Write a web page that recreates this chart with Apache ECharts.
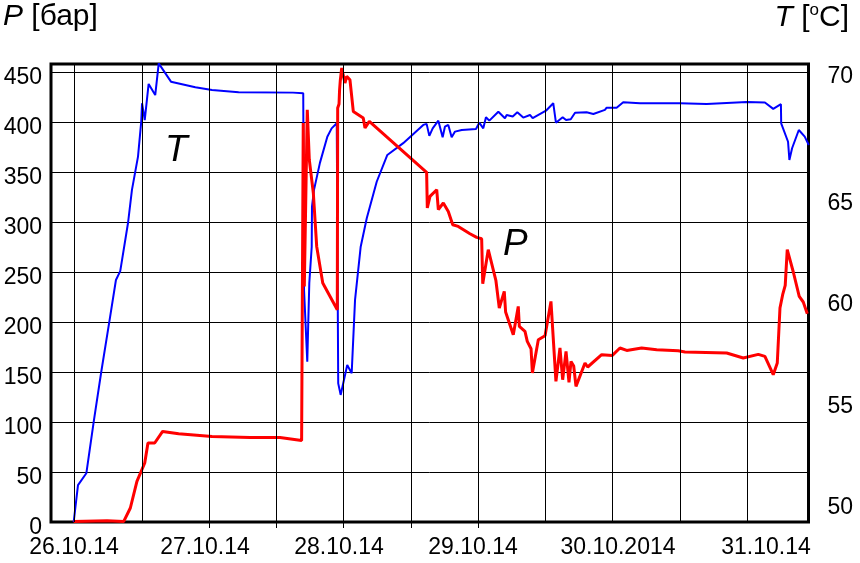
<!DOCTYPE html>
<html>
<head>
<meta charset="utf-8">
<script src="https://cdn.jsdelivr.net/npm/echarts@6/dist/echarts.min.js"></script>
<style>html,body{margin:0;padding:0;background:#fff}#c{width:860px;height:563px}</style>
</head>
<body>
<div id="c"></div>
<script>
// time in days since 26.10.14 00:00
const xLabelText = ['26.10.14', '27.10.14', '28.10.14', '29.10.14', '30.10.2014', '31.10.14'];
const xLabelAt = [-0.004, 0.970, 1.966, 2.962, 4.039, 5.139];
const xGridDays = [0, 0.5, 1, 1.5, 2, 2.5, 3, 3.5, 4, 4.5, 5];
const xTickDays = [1, 1.5, 2, 2.5, 3];

const tLabelText = ['50', '55', '60', '65', '70'];
const tLabelAt = [50, 55, 60, 65, 71.23];

const tDays = [-0.006,0.026,0.088,0.143,0.199,0.259,0.308,0.340,0.398,0.427,0.472,0.496,0.502,0.522,0.551,0.600,0.626,0.717,0.898,1.022,1.220,1.624,1.700,1.706,1.730,1.745,1.763,1.765,1.780,1.824,1.879,1.911,1.949,1.960,1.978,2.027,2.060,2.085,2.127,2.172,2.246,2.325,2.443,2.592,2.617,2.637,2.662,2.704,2.736,2.753,2.778,2.803,2.828,2.878,2.984,3.008,3.038,3.058,3.083,3.150,3.199,3.212,3.257,3.291,3.335,3.385,3.405,3.504,3.558,3.578,3.628,3.653,3.688,3.720,3.806,3.856,3.942,3.955,4.029,4.078,4.203,4.500,4.698,4.996,5.131,5.193,5.250,5.252,5.303,5.313,5.333,5.383,5.427,5.457];
const tValues = [49.31,51.13,51.71,54.25,56.71,59.18,61.23,61.67,64.05,65.67,67.31,69.03,69.94,69.11,70.89,70.34,71.9,71.0,70.72,70.59,70.48,70.46,70.43,60.74,57.21,61.08,62.87,64.84,65.67,67.0,68.29,68.7,68.95,56.14,55.57,57.04,56.64,60.25,62.87,64.27,66.07,67.39,67.97,68.87,68.92,68.33,68.7,69.08,68.26,68.78,68.87,68.26,68.54,68.62,68.67,68.98,68.7,69.25,69.08,69.52,69.2,69.36,69.28,69.49,69.23,69.36,69.2,69.57,69.94,68.98,69.25,69.11,69.15,69.47,69.49,69.41,69.61,69.72,69.72,69.99,69.94,69.94,69.9,70.0,69.97,69.66,69.89,68.95,68.04,67.14,67.72,68.62,68.29,67.88];

const pDays = [-0.006,0.242,0.366,0.415,0.464,0.522,0.546,0.596,0.655,0.774,1.022,1.304,1.527,1.688,1.700,1.708,1.730,1.745,1.775,1.800,1.845,1.953,1.956,1.966,1.970,1.975,1.986,2.010,2.023,2.047,2.072,2.146,2.159,2.191,2.617,2.622,2.642,2.692,2.704,2.741,2.778,2.811,2.852,2.939,2.989,3.026,3.034,3.075,3.132,3.157,3.194,3.204,3.261,3.298,3.306,3.348,3.365,3.393,3.403,3.447,3.497,3.541,3.578,3.608,3.628,3.653,3.675,3.690,3.710,3.727,3.794,3.814,3.918,3.997,4.054,4.104,4.215,4.327,4.487,4.537,4.847,4.970,5.082,5.131,5.193,5.223,5.243,5.263,5.282,5.297,5.342,5.386,5.416,5.446];
const pValues = [0.6,1.3,0.6,14,40.6,59,79,79,90.6,88.3,85.6,84.6,84.6,81.6,399,235.6,412.3,362.3,329,275.6,239,212.3,414,418,432,441,454,439,445.6,442.3,410.6,404,394,400.6,349.6,314,325.6,332.3,312.3,319,310.6,297.3,295.6,288.3,284.6,283.3,238.3,272.3,241.3,214,230.6,210,187.3,215.6,195.6,190.6,180.6,173.3,149,182.3,186.3,220.6,140.6,174,142.3,170.6,139.6,160.6,156,135.6,159,155,167.3,166.6,174,171.6,174,172.3,171.3,170,169,164,167.6,165.6,147.3,159,214,227.3,236.6,272.3,250,225.6,220,208.3];

const FONT = 'Liberation Sans, Arial, sans-serif';
const FS = 23;
function nearestIdx(arr, v) {
  let b = 0;
  for (let i = 1; i < arr.length; i++) if (Math.abs(arr[i] - v) < Math.abs(arr[b] - v)) b = i;
  return b;
}

const chart = echarts.init(document.getElementById('c'));
chart.setOption({
  animation: false,
  backgroundColor: '#fff',
  grid: { left: 51, right: 51.5, top: 64, bottom: 41, show: true, borderColor: '#000', borderWidth: 3, containLabel: false },
  xAxis: {
    type: 'value', min: -0.1746, max: 5.455,
    axisLine: { show: false },
    splitLine: { show: false },
    axisTick: { show: true, customValues: xTickDays, length: 6, lineStyle: { color: '#000', width: 1 } },
    axisLabel: {
      customValues: xLabelAt, margin: 14, color: '#000', fontFamily: FONT, fontSize: FS,
      formatter: v => xLabelText[nearestIdx(xLabelAt, v)]
    }
  },
  yAxis: [
    {
      type: 'value', min: 0, max: 458, interval: 50,
      axisLine: { show: false }, axisTick: { show: false },
      splitLine: { show: true, lineStyle: { color: '#000', width: 1 } },
      axisLabel: { showMaxLabel: false, margin: 9, color: '#000', fontFamily: FONT, fontSize: FS, verticalAlign: 'top', lineHeight: 12 }
    },
    {
      type: 'value', position: 'right', min: 49.31, max: 71.87,
      axisLine: { show: false }, axisTick: { show: false }, splitLine: { show: false },
      axisLabel: {
        customValues: tLabelAt, margin: 19, color: '#000', fontFamily: FONT, fontSize: FS,
        formatter: v => tLabelText[nearestIdx(tLabelAt, v)]
      }
    }
  ],
  series: [
    {
      type: 'line', data: [], z: 1, silent: true,
      markLine: {
        silent: true, symbol: ['none', 'none'], animation: false,
        label: { show: false },
        lineStyle: { color: '#000', width: 1, type: 'solid' },
        data: xGridDays.map(d => ({ xAxis: d }))
      }
    },
    {
      name: 'T', type: 'line', yAxisIndex: 1, z: 3,
      data: tDays.map((d, i) => [d, tValues[i]]),
      showSymbol: false, symbol: 'none',
      lineStyle: { color: '#0000ff', width: 2 }
    },
    {
      name: 'P', type: 'line', yAxisIndex: 0, z: 4,
      data: pDays.map((d, i) => [d, pValues[i]]),
      showSymbol: false, symbol: 'none',
      lineStyle: { color: '#ff0000', width: 3 }
    }
  ],
  graphic: [
    {
      type: 'text', left: 3, top: 2,
      style: {
        text: '{i|P} [бар]', fill: '#000', font: '30px ' + FONT,
        rich: { i: { fontStyle: 'italic', fontSize: 30, fontFamily: FONT } }
      }
    },
    {
      type: 'text', right: 11, top: 2,
      style: {
        text: '{i|T} [{s|o}C]', fill: '#000', font: '30px ' + FONT,
        rich: {
          i: { fontStyle: 'italic', fontSize: 30, fontFamily: FONT },
          s: { fontSize: 17, fontFamily: FONT, verticalAlign: 'top', lineHeight: 32, padding: [0, 0, 12, 0] }
        }
      }
    },
    { type: 'text', left: 165, top: 132, style: { text: 'T', fill: '#000', font: 'italic 37px ' + FONT } },
    { type: 'text', left: 503, top: 226, style: { text: 'P', fill: '#000', font: 'italic 37px ' + FONT } }
  ]
});
</script>
</body>
</html>
